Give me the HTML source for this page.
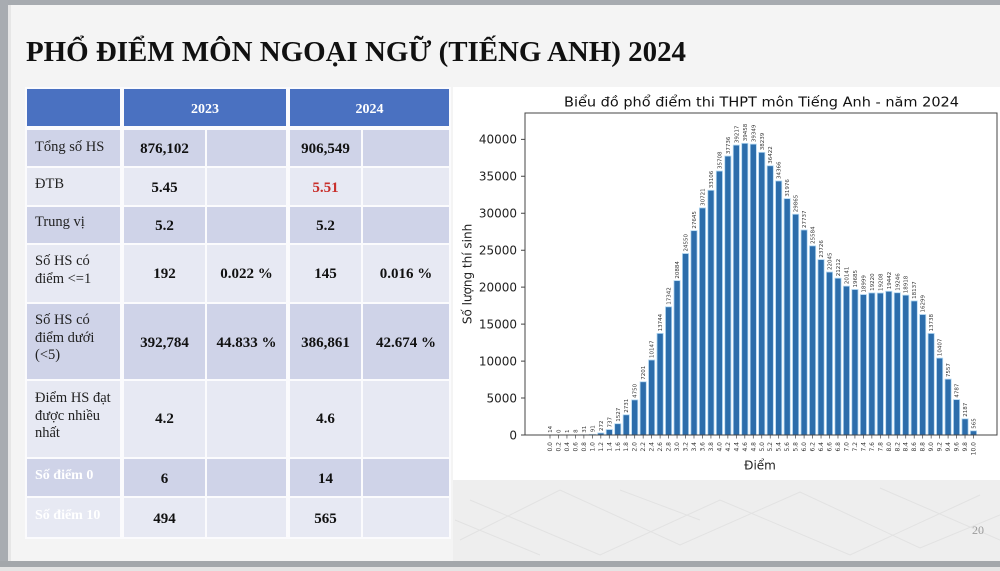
<!DOCTYPE html>
<html><head><meta charset="utf-8"><style>html,body{margin:0;padding:0;background:#f3f3f3;}svg{display:block;}</style></head>
<body>
<svg width="1000" height="571" viewBox="0 0 1000 571" xmlns="http://www.w3.org/2000/svg">
<!-- slide background & frame -->
<rect x="0" y="0" width="1000" height="571" fill="#f4f4f4"/>
<rect x="0" y="0" width="1000" height="5" fill="#a7abb0"/>
<rect x="0" y="0" width="8" height="571" fill="#a8acb1"/>
<rect x="8" y="5" width="3" height="556" fill="#e6e6e6"/>
<rect x="453" y="480" width="547" height="81" fill="#eeeeee"/>
<g stroke="#e2e2e2" stroke-width="1" fill="none">
<path d="M460 540L560 490L680 545L800 492L920 548L1000 515M470 500L600 555L720 500L850 555L980 495M455 520L540 555M620 490L700 520M880 488L1000 540"/>
</g>
<rect x="0" y="561" width="1000" height="6" fill="#a3a7ab"/>
<rect x="0" y="567" width="1000" height="4" fill="#e4e4e4"/>

<!-- title -->
<text x="26" y="61" font-family="Liberation Serif, serif" font-weight="bold" font-size="28" fill="#111" textLength="660" lengthAdjust="spacingAndGlyphs">PHỔ ĐIỂM MÔN NGOẠI NGỮ (TIẾNG ANH) 2024</text>

<!-- table -->
<rect x="25" y="87" width="426" height="452" fill="#fbfbfd"/>
<g fill="#4a71c1">
<rect x="27" y="89" width="93" height="37"/>
<rect x="124" y="89" width="162" height="37"/>
<rect x="290" y="89" width="159" height="37"/>
</g>
<g fill="#cfd3e8">
<rect x="27" y="130" width="93" height="36"/><rect x="124" y="130" width="81" height="36"/><rect x="207" y="130" width="79" height="36"/><rect x="290" y="130" width="71" height="36"/><rect x="363" y="130" width="86" height="36"/>
<rect x="27" y="207" width="93" height="36"/><rect x="124" y="207" width="81" height="36"/><rect x="207" y="207" width="79" height="36"/><rect x="290" y="207" width="71" height="36"/><rect x="363" y="207" width="86" height="36"/>
<rect x="27" y="304" width="93" height="75"/><rect x="124" y="304" width="81" height="75"/><rect x="207" y="304" width="79" height="75"/><rect x="290" y="304" width="71" height="75"/><rect x="363" y="304" width="86" height="75"/>
<rect x="27" y="459" width="93" height="37"/><rect x="124" y="459" width="81" height="37"/><rect x="207" y="459" width="79" height="37"/><rect x="290" y="459" width="71" height="37"/><rect x="363" y="459" width="86" height="37"/>
</g>
<g fill="#e7e9f3">
<rect x="27" y="168" width="93" height="37"/><rect x="124" y="168" width="81" height="37"/><rect x="207" y="168" width="79" height="37"/><rect x="290" y="168" width="71" height="37"/><rect x="363" y="168" width="86" height="37"/>
<rect x="27" y="245" width="93" height="57"/><rect x="124" y="245" width="81" height="57"/><rect x="207" y="245" width="79" height="57"/><rect x="290" y="245" width="71" height="57"/><rect x="363" y="245" width="86" height="57"/>
<rect x="27" y="381" width="93" height="76"/><rect x="124" y="381" width="81" height="76"/><rect x="207" y="381" width="79" height="76"/><rect x="290" y="381" width="71" height="76"/><rect x="363" y="381" width="86" height="76"/>
<rect x="27" y="498" width="93" height="39"/><rect x="124" y="498" width="81" height="39"/><rect x="207" y="498" width="79" height="39"/><rect x="290" y="498" width="71" height="39"/><rect x="363" y="498" width="86" height="39"/>
</g>
<g font-family="Liberation Serif, serif" font-weight="bold" font-size="14" fill="#ffffff" text-anchor="middle">
<text x="205" y="113">2023</text>
<text x="369.5" y="113">2024</text>
</g>
<g font-family="Liberation Serif, serif" font-size="14.5" fill="#222">
<text x="35" y="151">Tổng số HS</text>
<text x="35" y="188">ĐTB</text>
<text x="35" y="226">Trung vị</text>
<text x="35" y="265">Số HS có</text>
<text x="35" y="283">điểm &lt;=1</text>
<text x="35" y="324">Số HS có</text>
<text x="35" y="342">điểm dưới</text>
<text x="35" y="359">(&lt;5)</text>
<text x="35" y="402">Điểm HS đạt</text>
<text x="35" y="420">được nhiều</text>
<text x="35" y="437">nhất</text>
</g>
<g font-family="Liberation Serif, serif" font-weight="bold" font-size="14" fill="#ffffff">
<text x="35" y="479">Số điểm 0</text>
<text x="35" y="519">Số điểm 10</text>
</g>
<g font-family="Liberation Serif, serif" font-weight="bold" font-size="15" fill="#111" text-anchor="middle">
<text x="164.5" y="153">876,102</text><text x="325.5" y="153">906,549</text>
<text x="164.5" y="192">5.45</text><text x="325.5" y="192" fill="#c9302c">5.51</text>
<text x="164.5" y="230">5.2</text><text x="325.5" y="230">5.2</text>
<text x="164.5" y="278">192</text><text x="246.5" y="278">0.022 %</text><text x="325.5" y="278">145</text><text x="406" y="278">0.016 %</text>
<text x="164.5" y="347">392,784</text><text x="246.5" y="347">44.833 %</text><text x="325.5" y="347">386,861</text><text x="406" y="347">42.674 %</text>
<text x="164.5" y="423">4.2</text><text x="325.5" y="423">4.6</text>
<text x="164.5" y="483">6</text><text x="325.5" y="483">14</text>
<text x="164.5" y="523">494</text><text x="325.5" y="523">565</text>
</g>

<!-- chart image -->
<rect x="453" y="87" width="547" height="393" fill="#ffffff"/>
<text x="761.5" y="106.5" font-family="DejaVu Sans, sans-serif" font-size="13" fill="#111" text-anchor="middle" textLength="395" lengthAdjust="spacingAndGlyphs">Biểu đồ phổ điểm thi THPT môn Tiếng Anh - năm 2024</text>

<!-- bars -->
<g fill="#2c6dab" stroke="#b3d8f2" stroke-width="0.8">
<rect x="546.90" y="434.90" width="6.2" height="0.10"/>
<rect x="555.37" y="435" width="6.2" height="0"/>
<rect x="563.84" y="434.99" width="6.2" height="0.01"/>
<rect x="572.31" y="434.94" width="6.2" height="0.06"/>
<rect x="580.78" y="434.77" width="6.2" height="0.23"/>
<rect x="589.25" y="434.33" width="6.2" height="0.67"/>
<rect x="597.72" y="432.99" width="6.2" height="2.01"/>
<rect x="606.19" y="429.55" width="6.2" height="5.45"/>
<rect x="614.66" y="423.71" width="6.2" height="11.29"/>
<rect x="623.13" y="414.81" width="6.2" height="20.19"/>
<rect x="631.60" y="399.89" width="6.2" height="35.11"/>
<rect x="640.07" y="381.77" width="6.2" height="53.23"/>
<rect x="648.54" y="359.99" width="6.2" height="75.01"/>
<rect x="657.01" y="333.40" width="6.2" height="101.60"/>
<rect x="665.48" y="306.81" width="6.2" height="128.19"/>
<rect x="673.95" y="280.63" width="6.2" height="154.37"/>
<rect x="682.42" y="253.53" width="6.2" height="181.47"/>
<rect x="690.89" y="230.65" width="6.2" height="204.35"/>
<rect x="699.36" y="207.91" width="6.2" height="227.09"/>
<rect x="707.83" y="190.28" width="6.2" height="244.72"/>
<rect x="716.30" y="171.05" width="6.2" height="263.95"/>
<rect x="724.77" y="156.06" width="6.2" height="278.94"/>
<rect x="733.24" y="145.11" width="6.2" height="289.89"/>
<rect x="741.71" y="143.33" width="6.2" height="291.67"/>
<rect x="750.18" y="144.13" width="6.2" height="290.87"/>
<rect x="758.65" y="152.34" width="6.2" height="282.66"/>
<rect x="767.12" y="165.77" width="6.2" height="269.23"/>
<rect x="775.59" y="180.97" width="6.2" height="254.03"/>
<rect x="784.06" y="198.63" width="6.2" height="236.37"/>
<rect x="792.53" y="214.24" width="6.2" height="220.76"/>
<rect x="801.00" y="229.97" width="6.2" height="205.03"/>
<rect x="809.47" y="245.88" width="6.2" height="189.12"/>
<rect x="817.94" y="259.62" width="6.2" height="175.38"/>
<rect x="826.41" y="272.04" width="6.2" height="162.96"/>
<rect x="834.88" y="278.20" width="6.2" height="156.80"/>
<rect x="843.35" y="286.12" width="6.2" height="148.88"/>
<rect x="851.82" y="289.49" width="6.2" height="145.51"/>
<rect x="860.29" y="294.56" width="6.2" height="140.44"/>
<rect x="868.76" y="292.93" width="6.2" height="142.07"/>
<rect x="877.23" y="293.01" width="6.2" height="141.99"/>
<rect x="885.70" y="291.28" width="6.2" height="143.72"/>
<rect x="894.17" y="292.73" width="6.2" height="142.27"/>
<rect x="902.64" y="295.16" width="6.2" height="139.84"/>
<rect x="911.11" y="300.93" width="6.2" height="134.07"/>
<rect x="919.58" y="314.52" width="6.2" height="120.48"/>
<rect x="928.05" y="333.45" width="6.2" height="101.55"/>
<rect x="936.52" y="358.07" width="6.2" height="76.93"/>
<rect x="944.99" y="379.14" width="6.2" height="55.86"/>
<rect x="953.46" y="399.61" width="6.2" height="35.39"/>
<rect x="961.93" y="418.83" width="6.2" height="16.17"/>
<rect x="970.40" y="430.82" width="6.2" height="4.18"/>
</g>

<!-- value labels -->
<g font-family="DejaVu Sans, sans-serif" font-size="5.5" fill="#333">
<text transform="translate(552.00,432.9) rotate(-90)">14</text>
<text transform="translate(560.47,433) rotate(-90)">0</text>
<text transform="translate(568.94,433) rotate(-90)">1</text>
<text transform="translate(577.41,432.9) rotate(-90)">8</text>
<text transform="translate(585.88,432.8) rotate(-90)">31</text>
<text transform="translate(594.35,432.3) rotate(-90)">91</text>
<text transform="translate(602.82,431) rotate(-90)">272</text>
<text transform="translate(611.29,427.5) rotate(-90)">737</text>
<text transform="translate(619.76,421.7) rotate(-90)">1527</text>
<text transform="translate(628.23,412.8) rotate(-90)">2731</text>
<text transform="translate(636.70,397.9) rotate(-90)">4750</text>
<text transform="translate(645.17,379.8) rotate(-90)">7201</text>
<text transform="translate(653.64,358) rotate(-90)">10147</text>
<text transform="translate(662.11,331.4) rotate(-90)">13744</text>
<text transform="translate(670.58,304.8) rotate(-90)">17342</text>
<text transform="translate(679.05,278.6) rotate(-90)">20884</text>
<text transform="translate(687.52,251.5) rotate(-90)">24550</text>
<text transform="translate(695.99,228.6) rotate(-90)">27645</text>
<text transform="translate(704.46,205.9) rotate(-90)">30721</text>
<text transform="translate(712.93,188.3) rotate(-90)">33106</text>
<text transform="translate(721.40,169) rotate(-90)">35708</text>
<text transform="translate(729.87,154.1) rotate(-90)">37736</text>
<text transform="translate(738.34,143.1) rotate(-90)">39217</text>
<text transform="translate(746.81,141.3) rotate(-90)">39458</text>
<text transform="translate(755.28,142.1) rotate(-90)">39349</text>
<text transform="translate(763.75,150.3) rotate(-90)">38239</text>
<text transform="translate(772.22,163.8) rotate(-90)">36422</text>
<text transform="translate(780.69,179) rotate(-90)">34366</text>
<text transform="translate(789.16,196.6) rotate(-90)">31976</text>
<text transform="translate(797.63,212.2) rotate(-90)">29865</text>
<text transform="translate(806.10,228) rotate(-90)">27737</text>
<text transform="translate(814.57,243.9) rotate(-90)">25584</text>
<text transform="translate(823.04,257.6) rotate(-90)">23726</text>
<text transform="translate(831.51,270) rotate(-90)">22045</text>
<text transform="translate(839.98,276.2) rotate(-90)">21212</text>
<text transform="translate(848.45,284.1) rotate(-90)">20141</text>
<text transform="translate(856.92,287.5) rotate(-90)">19685</text>
<text transform="translate(865.39,292.6) rotate(-90)">18999</text>
<text transform="translate(873.86,290.9) rotate(-90)">19220</text>
<text transform="translate(882.33,291) rotate(-90)">19208</text>
<text transform="translate(890.80,289.3) rotate(-90)">19442</text>
<text transform="translate(899.27,290.7) rotate(-90)">19246</text>
<text transform="translate(907.74,293.2) rotate(-90)">18918</text>
<text transform="translate(916.21,298.9) rotate(-90)">18137</text>
<text transform="translate(924.68,312.5) rotate(-90)">16299</text>
<text transform="translate(933.15,331.5) rotate(-90)">13738</text>
<text transform="translate(941.62,356.1) rotate(-90)">10407</text>
<text transform="translate(950.09,377.1) rotate(-90)">7557</text>
<text transform="translate(958.56,397.6) rotate(-90)">4787</text>
<text transform="translate(967.03,416.8) rotate(-90)">2187</text>
<text transform="translate(975.50,428.8) rotate(-90)">565</text>
</g>

<!-- axes -->
<g stroke="#444" stroke-width="1" fill="none">
<rect x="525" y="113" width="472" height="322"/>
<path d="M521 435h4M521 398.04h4M521 361.08h4M521 324.12h4M521 287.16h4M521 250.2h4M521 213.24h4M521 176.28h4M521 139.32h4"/>
</g>
<path stroke="#444" stroke-width="0.7" fill="none" d="M550 435v3.5M558.47 435v3.5M566.94 435v3.5M575.41 435v3.5M583.88 435v3.5M592.35 435v3.5M600.82 435v3.5M609.29 435v3.5M617.76 435v3.5M626.23 435v3.5M634.7 435v3.5M643.17 435v3.5M651.64 435v3.5M660.11 435v3.5M668.58 435v3.5M677.05 435v3.5M685.52 435v3.5M693.99 435v3.5M702.46 435v3.5M710.93 435v3.5M719.4 435v3.5M727.87 435v3.5M736.34 435v3.5M744.81 435v3.5M753.28 435v3.5M761.75 435v3.5M770.22 435v3.5M778.69 435v3.5M787.16 435v3.5M795.63 435v3.5M804.1 435v3.5M812.57 435v3.5M821.04 435v3.5M829.51 435v3.5M837.98 435v3.5M846.45 435v3.5M854.92 435v3.5M863.39 435v3.5M871.86 435v3.5M880.33 435v3.5M888.8 435v3.5M897.27 435v3.5M905.74 435v3.5M914.21 435v3.5M922.68 435v3.5M931.15 435v3.5M939.62 435v3.5M948.09 435v3.5M956.56 435v3.5M965.03 435v3.5M973.5 435v3.5"/>

<g font-family="DejaVu Sans, sans-serif" font-size="12" fill="#222" text-anchor="end">
<text x="517" y="439.3">0</text>
<text x="517" y="402.3">5000</text>
<text x="517" y="365.4">10000</text>
<text x="517" y="328.4">15000</text>
<text x="517" y="291.5">20000</text>
<text x="517" y="254.5">25000</text>
<text x="517" y="217.5">30000</text>
<text x="517" y="180.6">35000</text>
<text x="517" y="143.6">40000</text>
</g>

<g font-family="DejaVu Sans, sans-serif" font-size="6" fill="#333" text-anchor="end">
<text transform="translate(552.00,442) rotate(-90)">0.0</text>
<text transform="translate(560.47,442) rotate(-90)">0.2</text>
<text transform="translate(568.94,442) rotate(-90)">0.4</text>
<text transform="translate(577.41,442) rotate(-90)">0.6</text>
<text transform="translate(585.88,442) rotate(-90)">0.8</text>
<text transform="translate(594.35,442) rotate(-90)">1.0</text>
<text transform="translate(602.82,442) rotate(-90)">1.2</text>
<text transform="translate(611.29,442) rotate(-90)">1.4</text>
<text transform="translate(619.76,442) rotate(-90)">1.6</text>
<text transform="translate(628.23,442) rotate(-90)">1.8</text>
<text transform="translate(636.70,442) rotate(-90)">2.0</text>
<text transform="translate(645.17,442) rotate(-90)">2.2</text>
<text transform="translate(653.64,442) rotate(-90)">2.4</text>
<text transform="translate(662.11,442) rotate(-90)">2.6</text>
<text transform="translate(670.58,442) rotate(-90)">2.8</text>
<text transform="translate(679.05,442) rotate(-90)">3.0</text>
<text transform="translate(687.52,442) rotate(-90)">3.2</text>
<text transform="translate(695.99,442) rotate(-90)">3.4</text>
<text transform="translate(704.46,442) rotate(-90)">3.6</text>
<text transform="translate(712.93,442) rotate(-90)">3.8</text>
<text transform="translate(721.40,442) rotate(-90)">4.0</text>
<text transform="translate(729.87,442) rotate(-90)">4.2</text>
<text transform="translate(738.34,442) rotate(-90)">4.4</text>
<text transform="translate(746.81,442) rotate(-90)">4.6</text>
<text transform="translate(755.28,442) rotate(-90)">4.8</text>
<text transform="translate(763.75,442) rotate(-90)">5.0</text>
<text transform="translate(772.22,442) rotate(-90)">5.2</text>
<text transform="translate(780.69,442) rotate(-90)">5.4</text>
<text transform="translate(789.16,442) rotate(-90)">5.6</text>
<text transform="translate(797.63,442) rotate(-90)">5.8</text>
<text transform="translate(806.10,442) rotate(-90)">6.0</text>
<text transform="translate(814.57,442) rotate(-90)">6.2</text>
<text transform="translate(823.04,442) rotate(-90)">6.4</text>
<text transform="translate(831.51,442) rotate(-90)">6.6</text>
<text transform="translate(839.98,442) rotate(-90)">6.8</text>
<text transform="translate(848.45,442) rotate(-90)">7.0</text>
<text transform="translate(856.92,442) rotate(-90)">7.2</text>
<text transform="translate(865.39,442) rotate(-90)">7.4</text>
<text transform="translate(873.86,442) rotate(-90)">7.6</text>
<text transform="translate(882.33,442) rotate(-90)">7.8</text>
<text transform="translate(890.80,442) rotate(-90)">8.0</text>
<text transform="translate(899.27,442) rotate(-90)">8.2</text>
<text transform="translate(907.74,442) rotate(-90)">8.4</text>
<text transform="translate(916.21,442) rotate(-90)">8.6</text>
<text transform="translate(924.68,442) rotate(-90)">8.8</text>
<text transform="translate(933.15,442) rotate(-90)">9.0</text>
<text transform="translate(941.62,442) rotate(-90)">9.2</text>
<text transform="translate(950.09,442) rotate(-90)">9.4</text>
<text transform="translate(958.56,442) rotate(-90)">9.6</text>
<text transform="translate(967.03,442) rotate(-90)">9.8</text>
<text transform="translate(975.50,442) rotate(-90)">10.0</text>
</g>

<text x="760" y="469.5" font-family="DejaVu Sans, sans-serif" font-size="12" fill="#222" text-anchor="middle">Điểm</text>
<text transform="translate(471.5,274) rotate(-90)" font-family="DejaVu Sans, sans-serif" font-size="12" fill="#222" text-anchor="middle">Số lượng thí sinh</text>

<text x="978" y="534" font-family="Liberation Serif, serif" font-size="12" fill="#9a9a9a" text-anchor="middle">20</text>
</svg>
</body></html>
